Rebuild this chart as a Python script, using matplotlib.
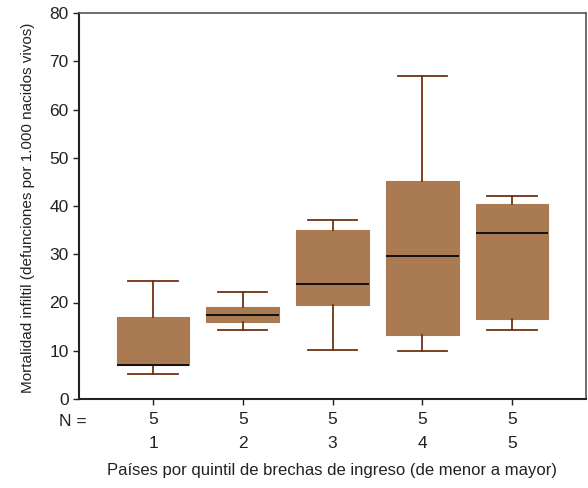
import matplotlib
matplotlib.use("Agg")
import matplotlib.pyplot as plt
from matplotlib import font_manager

categories = ["1", "2", "3", "4", "5"]
n_counts = ["5", "5", "5", "5", "5"]
whislo = [5.2, 14.2, 10.2, 9.9, 14.4]
q1 = [7.1, 16.0, 19.5, 13.3, 16.6]
med = [7.1, 17.4, 23.8, 29.6, 34.4]
q3 = [17.0, 19.0, 35.0, 45.2, 40.4]
whishi = [24.5, 22.2, 37.0, 66.9, 42.1]

avail = {f.name for f in font_manager.fontManager.ttflist}
fam = "Liberation Sans Narrow" if "Liberation Sans Narrow" in avail else "Liberation Sans"
plt.rcParams['font.family'] = [fam, 'DejaVu Sans']

fill = "#AA7B53"
wcol = "#6E3412"

fig = plt.figure(figsize=(5.88, 4.88), dpi=100)
ax = fig.add_axes([79/588, 1 - 399/488, (586-79)/588, (399-13)/488])

stats = []
for i in range(len(categories)):
    stats.append(dict(med=med[i], q1=q1[i], q3=q3[i], whislo=whislo[i], whishi=whishi[i], label=n_counts[i]))
pos = list(range(1, len(categories) + 1))
ax.bxp(stats, positions=pos, widths=0.81, showfliers=False, patch_artist=True,
       boxprops=dict(facecolor=fill, edgecolor=fill, linewidth=0.8),
       whiskerprops=dict(color=wcol, linewidth=1.3),
       capprops=dict(color=wcol, linewidth=1.3),
       capwidths=0.55,
       medianprops=dict(color="#111111", linewidth=1.4))

ax.set_xlim(0.175, 5.825)
ax.set_ylim(0, 80)
ax.set_yticks(range(0, 81, 10))
ax.set_xticks(pos)
ax.set_xticklabels(n_counts)
ax.tick_params(axis='both', labelsize=12.5, colors='#222222', length=4, width=1)
ax.tick_params(axis='x', pad=5)
for s in ['left', 'bottom']:
    ax.spines[s].set_color('#222222')
    ax.spines[s].set_linewidth(1.5)
for s in ['top', 'right']:
    ax.spines[s].set_color('#555555')
    ax.spines[s].set_linewidth(1.2)

for p, c in zip(pos, categories):
    ax.text(p, -9.2, c, ha='center', va='center', fontsize=12.5, color='#222222')
ax.text(-0.05, -4.7, "N =", ha='left', va='center', fontsize=12.5, color='#222222')

fig.text(332/588, 1 - 470/488, "Países por quintil de brechas de ingreso (de menor a mayor)",
         ha='center', va='center', fontsize=12, color='#222222')
fig.text(28/588, 1 - 208/488, "Mortalidad infiltil (defunciones por 1.000 nacidos vivos)",
         ha='center', va='center', rotation=90, fontsize=11, color='#222222')

fig.savefig("out.png", dpi=100)
